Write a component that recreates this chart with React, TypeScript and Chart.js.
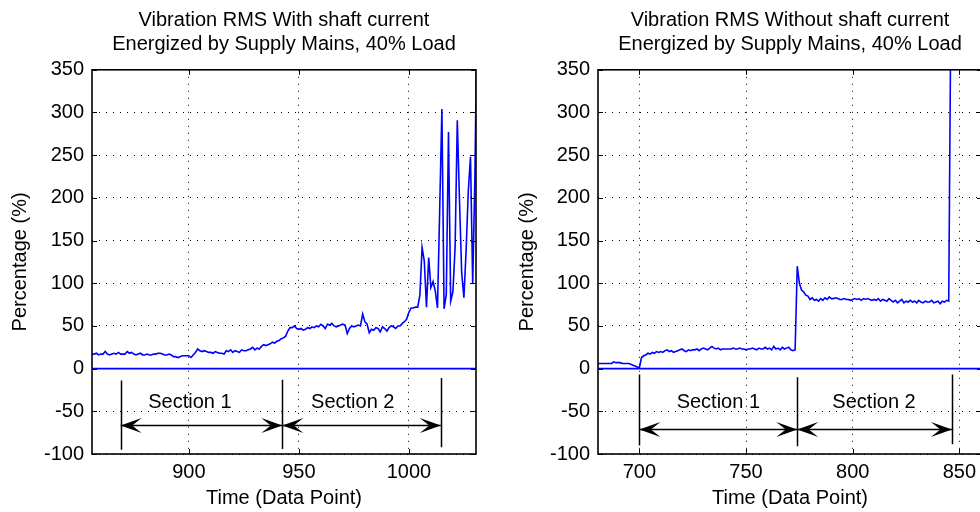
import React, { useEffect, useRef } from "react";
import { Chart, registerables } from "chart.js";

Chart.register(...registerables);

const FONT = "'Liberation Sans', Arial, Helvetica, sans-serif";

// ---- text ----
const leftTitle = ["Vibration RMS With shaft current", "Energized by Supply Mains, 40% Load"];
const rightTitle = ["Vibration RMS Without shaft current", "Energized by Supply Mains, 40% Load"];
const xAxisTitle = "Time (Data Point)";
const yAxisTitle = "Percentage (%)";
const sectionLabels = ["Section 1", "Section 2"];

// ---- left panel data (first data point = 856) ----
const leftStart = 856;
const leftValues = [
  17, 17, 18, 16, 17, 17, 20, 17, 16, 17,
  18, 17, 19, 17, 17, 17, 20, 18, 19, 17,
  16, 17, 18, 16, 16, 17, 16, 16, 17, 17,
  18, 18, 17, 16, 16, 17, 16, 14, 14, 13,
  14, 15, 15, 15, 15, 13, 16, 19, 23, 21,
  20, 21, 20, 19, 19, 18, 20, 19, 18, 18,
  17, 21, 20, 22, 19, 21, 20, 19, 22, 21,
  21, 22, 23, 25, 22, 24, 23, 26, 28, 27,
  28, 29, 31, 30, 32, 33, 35, 36, 38, 44,
  48, 48, 50, 47, 46, 47, 45, 46, 48, 47,
  49, 48, 50, 49, 52, 50, 47, 52, 51, 53,
  50, 49, 50, 51, 52, 51, 41, 47, 50, 49,
  50, 51, 50, 64, 55, 52, 42, 46, 45, 48,
  47, 43, 49, 47, 44, 48, 50, 49, 47, 50,
  50, 53, 55, 58, 66, 71, 71, 72, 72, 86,
  142, 126, 72, 130, 95, 102, 91, 71, 186, 304,
  70, 87, 277, 79, 90, 142, 291, 197, 112, 83,
  138, 208, 248, 99, 224, 420,
];

// ---- right panel data (first data point = 680) ----
const rightStart = 680;
const rightValues = [
  6, 6, 6, 6, 6, 6, 6, 6, 8, 7,
  7, 7, 6, 6, 6, 6, 5, 4, 3, 2,
  1, 13, 15, 16, 18, 17, 19, 18, 20, 19,
  20, 19, 21, 22, 20, 21, 19, 20, 21, 22,
  23, 21, 20, 22, 21, 22, 22, 23, 21, 23,
  24, 23, 22, 24, 26, 24, 23, 24, 22, 23,
  23, 23, 23, 23, 24, 23, 23, 24, 23, 23,
  22, 23, 23, 24, 23, 22, 24, 23, 23, 25,
  23, 24, 22, 26, 23, 24, 22, 25, 23, 24,
  25, 22, 21, 22,
  120, 100, 92, 90, 86, 85, 81, 83, 80, 81,
  79, 82, 80, 83, 81, 84, 82, 82, 83, 82,
  81, 81, 82, 81, 81, 80, 81, 82, 81, 82,
  80, 82, 81, 82, 81, 80, 81, 80, 82, 79,
  81, 80, 79, 82, 80, 78, 80, 77, 79, 81,
  77, 79, 78, 80, 78, 79, 77, 80, 78, 77,
  79, 78, 78, 80, 77, 78, 79, 76, 79, 78,
  80, 79, 420,
];

const baselineValue = [0];

// ---- axes ----
const leftXRange = [856, 1030.5];
const rightXRange = [680.6, 860.6];
const yRange = [-100, 350];
const tickStep = [50];

// ---- section annotations ----
const leftSectionBounds = [869, 942.5, 1014.5];
const leftSectionTops = [-14, -13, -11];
const leftSectionBottoms = [-95, -94, -92];
const leftArrowY = [-66];
const leftLabelX = [900.5, 974.5];
const rightSectionBounds = [700, 774, 846.5];
const rightSectionTops = [-7, -10, -7];
const rightSectionBottoms = [-90, -91, -88.5];
const rightArrowY = [-70.5];
const rightLabelX = [737, 810];
const sectionLabelY = [-39.5];

const decorPlugin = {
  id: "panelDecor",
  afterDatasetsDraw(chart: any, _args: any, opts: any) {
    const { ctx, chartArea: a, scales } = chart;
    const xs = scales.x;
    const ys = scales.y;
    ctx.save();
    // frame
    ctx.strokeStyle = "#000";
    ctx.lineWidth = 1.6;
    ctx.strokeRect(a.left, a.top, a.right - a.left, a.bottom - a.top);
    // inward ticks
    ctx.lineWidth = 1;
    const tl = 5;
    ctx.beginPath();
    xs.ticks.forEach((t: any) => {
      const px = Math.round(xs.getPixelForValue(t.value)) + 0.5;
      ctx.moveTo(px, a.bottom);
      ctx.lineTo(px, a.bottom - tl);
      ctx.moveTo(px, a.top);
      ctx.lineTo(px, a.top + tl);
    });
    ys.ticks.forEach((t: any) => {
      const py = Math.round(ys.getPixelForValue(t.value)) + 0.5;
      ctx.moveTo(a.left, py);
      ctx.lineTo(a.left + tl, py);
      ctx.moveTo(a.right, py);
      ctx.lineTo(a.right - tl, py);
    });
    ctx.stroke();

    // section markers
    const b: number[] = opts.bounds;
    ctx.lineWidth = 1.5;
    ctx.beginPath();
    b.forEach((v, i) => {
      const px = Math.round(xs.getPixelForValue(v)) + 0.5;
      ctx.moveTo(px, ys.getPixelForValue(opts.tops[i]));
      ctx.lineTo(px, ys.getPixelForValue(opts.bottoms[i]));
    });
    ctx.stroke();

    const ay = Math.round(ys.getPixelForValue(opts.arrowY)) + 0.5;
    const L = 21;
    const W = 15;
    const head = (tipX: number, dir: number) => {
      ctx.beginPath();
      ctx.moveTo(tipX, ay);
      ctx.lineTo(tipX + dir * L, ay - W / 2);
      ctx.lineTo(tipX + dir * L * 0.55, ay);
      ctx.lineTo(tipX + dir * L, ay + W / 2);
      ctx.closePath();
      ctx.fill();
    };
    ctx.fillStyle = "#000";
    for (let s = 0; s < b.length - 1; s++) {
      const x1 = xs.getPixelForValue(b[s]);
      const x2 = xs.getPixelForValue(b[s + 1]);
      ctx.beginPath();
      ctx.lineWidth = 1.5;
      ctx.moveTo(x1, ay);
      ctx.lineTo(x2, ay);
      ctx.stroke();
      head(x1, 1);
      head(x2, -1);
    }
    ctx.font = `20px ${FONT}`;
    ctx.textAlign = "center";
    ctx.textBaseline = "middle";
    opts.labelX.forEach((v: number, i: number) => {
      ctx.fillText(opts.labels[i], xs.getPixelForValue(v), ys.getPixelForValue(opts.labelY));
    });
    ctx.restore();
  },
};

type PanelCfg = {
  title: string[];
  start: number;
  values: number[];
  xRange: number[];
  bounds: number[];
  tops: number[];
  bottoms: number[];
  arrowY: number;
  labelX: number[];
  yWidth: number;
  padRight: number;
  yTitlePad: number;
};

function makeChart(canvas: HTMLCanvasElement, p: PanelCfg) {
  const font = { family: FONT, size: 20, weight: "normal" as const };
  const series = p.values.map((v, i) => ({ x: p.start + i, y: v }));
  const baseline = [
    { x: p.xRange[0], y: baselineValue[0] },
    { x: p.xRange[1], y: baselineValue[0] },
  ];
  return new Chart(canvas, {
    type: "line",
    data: {
      datasets: [
        {
          data: baseline,
          borderColor: "#0000ff",
          borderWidth: 1.8,
          pointRadius: 0,
          tension: 0,
        },
        {
          data: series,
          borderColor: "#0000ff",
          borderWidth: 1.6,
          pointRadius: 0,
          tension: 0,
        },
      ],
    },
    options: {
      responsive: false,
      animation: false,
      events: [],
      layout: { padding: { left: 0, right: p.padRight, top: 0, bottom: 0 } },
      plugins: {
        legend: { display: false },
        tooltip: { enabled: false },
        title: {
          display: true,
          text: p.title,
          fullSize: false,
          color: "#000",
          font: { family: FONT, size: 20, weight: "normal", lineHeight: 1.17 },
          padding: { top: 9, bottom: 14 },
        },
        panelDecor: {
          bounds: p.bounds,
          tops: p.tops,
          bottoms: p.bottoms,
          arrowY: p.arrowY,
          labelX: p.labelX,
          labelY: sectionLabelY[0],
          labels: sectionLabels,
        },
      } as any,
      scales: {
        x: {
          type: "linear",
          min: p.xRange[0],
          max: p.xRange[1],
          ticks: {
            stepSize: tickStep[0],
            includeBounds: false,
            color: "#000",
            font,
            padding: 6,
            maxRotation: 0,
            callback: (v: any) => String(v),
          },
          grid: { color: "#000", lineWidth: 1, drawTicks: false },
          border: { display: false, dash: [1, 6] },
          title: {
            display: true,
            text: xAxisTitle,
            color: "#000",
            font,
            padding: { top: 0, bottom: 2 },
          },
          afterFit: (s: any) => {
            s.height = 58;
          },
        },
        y: {
          type: "linear",
          min: yRange[0],
          max: yRange[1],
          ticks: {
            stepSize: tickStep[0],
            color: "#000",
            font,
            padding: 8,
            callback: (v: any) => String(v),
          },
          grid: { color: "#000", lineWidth: 1, drawTicks: false },
          border: { display: false, dash: [1, 6] },
          title: {
            display: true,
            text: yAxisTitle,
            color: "#000",
            font,
            padding: { top: p.yTitlePad, bottom: 0 },
          },
          afterFit: (s: any) => {
            s.width = p.yWidth;
          },
        },
      },
    } as any,
    plugins: [decorPlugin],
  });
}

export default function App() {
  const leftRef = useRef<HTMLCanvasElement>(null);
  const rightRef = useRef<HTMLCanvasElement>(null);

  useEffect(() => {
    const c1 = makeChart(leftRef.current!, {
      title: leftTitle,
      start: leftStart,
      values: leftValues,
      xRange: leftXRange,
      bounds: leftSectionBounds,
      tops: leftSectionTops,
      bottoms: leftSectionBottoms,
      arrowY: leftArrowY[0],
      labelX: leftLabelX,
      yWidth: 92,
      padRight: 14,
      yTitlePad: 8,
    });
    const c2 = makeChart(rightRef.current!, {
      title: rightTitle,
      start: rightStart,
      values: rightValues,
      xRange: rightXRange,
      bounds: rightSectionBounds,
      tops: rightSectionTops,
      bottoms: rightSectionBottoms,
      arrowY: rightArrowY[0],
      labelX: rightLabelX,
      yWidth: 108,
      padRight: 28,
      yTitlePad: 25,
    });
    return () => {
      c1.destroy();
      c2.destroy();
    };
  }, []);

  return (
    <div
      style={{
        position: "absolute",
        left: 0,
        top: 0,
        width: 980,
        height: 512,
        overflow: "hidden",
        background: "#fff",
      }}
    >
      <canvas
        ref={leftRef}
        width={490}
        height={512}
        style={{ position: "absolute", left: 0, top: 0, width: 490, height: 512 }}
      />
      <canvas
        ref={rightRef}
        width={520}
        height={512}
        style={{ position: "absolute", left: 490, top: 0, width: 520, height: 512 }}
      />
    </div>
  );
}
